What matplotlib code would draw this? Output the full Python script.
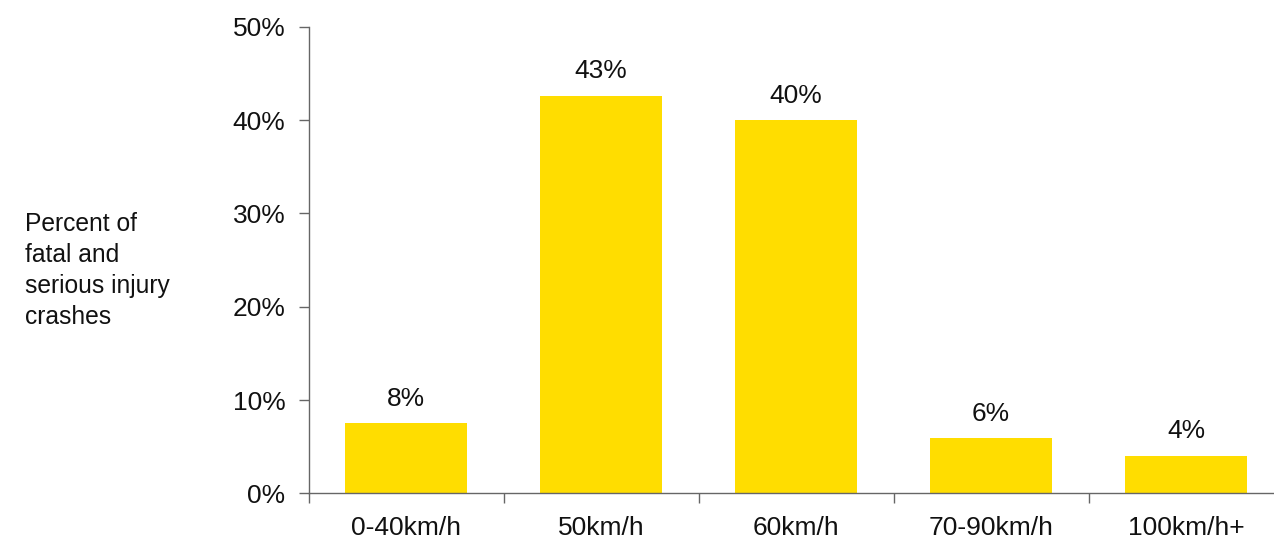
import matplotlib
matplotlib.use("Agg")
import matplotlib.pyplot as plt
from matplotlib.ticker import FuncFormatter, FixedLocator, NullFormatter

plt.rcParams['font.family'] = ['Liberation Sans', 'DejaVu Sans']

categories = ["0-40km/h", "50km/h", "60km/h", "70-90km/h", "100km/h+"]
values = [7.5, 42.6, 40.0, 5.9, 4.0]
labels = ["8%", "43%", "40%", "6%", "4%"]

fig = plt.figure(figsize=(12.74, 5.36), dpi=100)
W, H = 1274, 536
x0, x1 = 308.5, 1283.5
y0, y1 = 493.3, 26.8
ax = fig.add_axes([x0 / W, 1 - y0 / H, (x1 - x0) / W, (y0 - y1) / H])

xs = list(range(len(categories)))
ax.bar(xs, values, width=0.627, color="#FFDD00", zorder=2)
ax.set_xlim(-0.5, len(categories) - 0.5)
ax.set_ylim(0, 50)

for x, v, t in zip(xs, values, labels):
    ax.annotate(t, (x, v), xytext=(0, 9), textcoords="offset points",
                ha="center", va="bottom", fontsize=19, color="#111111")

for s in ["top", "right"]:
    ax.spines[s].set_visible(False)
for s in ["left", "bottom"]:
    ax.spines[s].set_color("#666666")
    ax.spines[s].set_linewidth(1.0)

ax.set_yticks([0, 10, 20, 30, 40, 50])
ax.yaxis.set_major_formatter(FuncFormatter(lambda v, p: f"{int(v)}%"))
ax.tick_params(axis="y", direction="out", length=7, width=1, color="#666666",
               labelsize=19, pad=9.5, labelcolor="#111111")

ax.xaxis.set_major_locator(FixedLocator([i - 0.5 for i in range(len(categories) + 1)]))
ax.xaxis.set_major_formatter(NullFormatter())
ax.xaxis.set_minor_locator(FixedLocator(xs))
ax.set_xticklabels(categories, minor=True)
ax.tick_params(axis="x", which="major", direction="out", length=7, width=1, color="#666666")
ax.tick_params(axis="x", which="minor", length=0, labelsize=19, pad=16, labelcolor="#111111")

fig.text(25 / W, 1 - 270.5 / H, "Percent of\nfatal and\nserious injury\ncrashes",
         ha="left", va="center", fontsize=17.7, color="#111111", linespacing=1.38)

fig.savefig("out.png", dpi=100)
